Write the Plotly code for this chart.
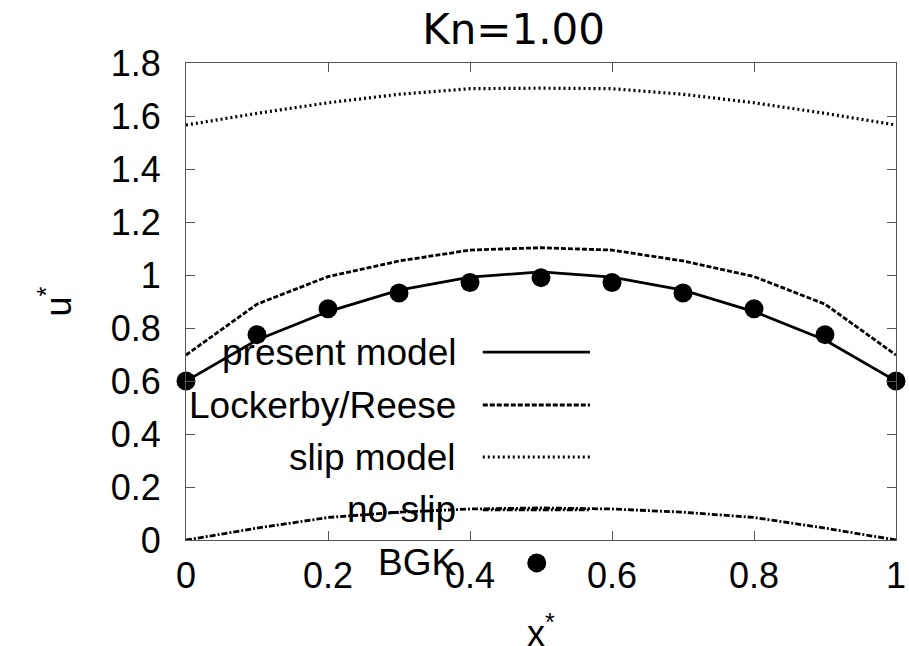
import plotly.graph_objects as go

x_star = [0.0, 0.1, 0.2, 0.3, 0.4, 0.5, 0.6, 0.7, 0.8, 0.9, 1.0]
present_model = [0.600, 0.755, 0.862, 0.943, 0.992, 1.012, 0.992, 0.943, 0.862, 0.755, 0.600]
lockerby_reese = [0.698, 0.890, 0.994, 1.053, 1.094, 1.103, 1.094, 1.053, 0.994, 0.890, 0.698]
slip_model = [1.566, 1.610, 1.650, 1.682, 1.703, 1.705, 1.703, 1.682, 1.650, 1.610, 1.566]
no_slip = [0.000, 0.045, 0.085, 0.105, 0.117, 0.121, 0.117, 0.105, 0.085, 0.045, 0.000]
bgk = [0.600, 0.775, 0.873, 0.932, 0.972, 0.990, 0.972, 0.932, 0.873, 0.775, 0.600]

x_ticks = [0, 0.2, 0.4, 0.6, 0.8, 1]
x_tick_labels = ["0", "0.2", "0.4", "0.6", "0.8", "1"]
y_ticks = [0, 0.2, 0.4, 0.6, 0.8, 1, 1.2, 1.4, 1.6, 1.8]
y_tick_labels = ["0", "0.2", "0.4", "0.6", "0.8", "1", "1.2", "1.4", "1.6", "1.8"]

legend_names = ["present model", "Lockerby/Reese", "slip model", "no-slip", "BGK"]

FONT = "Liberation Sans, Arial, Helvetica, sans-serif"
LW = 2.8
styles = {
    "present model": dict(color="black", width=LW, dash="solid"),
    "Lockerby/Reese": dict(color="black", width=LW, dash="5px,2px"),
    "slip model": dict(color="black", width=3.2, dash="2px,3px"),
    "no-slip": dict(color="black", width=LW, dash="6px,2px,2px,2px"),
}

fig = go.Figure()
for name, ys in [("present model", present_model), ("Lockerby/Reese", lockerby_reese),
                 ("slip model", slip_model), ("no-slip", no_slip)]:
    fig.add_trace(go.Scatter(x=x_star, y=ys, mode="lines", name=name,
                             line=styles[name], showlegend=False))
fig.add_trace(go.Scatter(x=x_star, y=bgk, mode="markers", name="BGK",
                         marker=dict(color="black", size=19, symbol="circle"),
                         showlegend=False, cliponaxis=False))

# gnuplot-style key: text right-aligned, sample on the right
row_y = [0.394, 0.283, 0.174, 0.063, -0.048]
text_x = 0.383
samp_x0, samp_x1 = 0.418, 0.569
for name, yy in zip(legend_names, row_y):
    fig.add_annotation(x=text_x, y=yy, xref="paper", yref="paper", text=name,
                       showarrow=False, xanchor="right", yanchor="middle",
                       font=dict(family=FONT, size=37, color="black"))
    if name in styles:
        fig.add_shape(type="line", xref="paper", yref="paper",
                      x0=samp_x0, x1=samp_x1, y0=yy, y1=yy, line=styles[name])
    else:
        fig.add_shape(type="circle", xref="paper", yref="paper",
                      xsizemode="pixel", ysizemode="pixel",
                      xanchor=0.494, yanchor=yy, x0=-9.5, x1=9.5, y0=-9.5, y1=9.5,
                      fillcolor="black", line=dict(color="black", width=0))

# x-axis title placed like gnuplot's (very close to the bottom edge)
fig.add_annotation(x=0.5, y=-0.243, xref="paper", yref="paper", text="x<sup>*</sup>",
                   showarrow=False, xanchor="center", yanchor="bottom",
                   font=dict(family=FONT, size=36, color="black"))

axis_common = dict(showgrid=False, zeroline=False, showline=True, linecolor="#555555",
                   linewidth=1.2, mirror="ticks", ticks="inside", ticklen=9,
                   tickcolor="#555555", tickwidth=1.2, automargin=False,
                   tickfont=dict(family=FONT, size=36, color="black"))

fig.update_layout(
    width=909, height=646,
    margin=dict(l=186, r=13, t=63, b=106),
    paper_bgcolor="white", plot_bgcolor="white",
    title=dict(text="Kn=1.00", x=0.565, xanchor="center", y=0.954, yanchor="middle",
               font=dict(family="DejaVu Sans", size=42, color="black")),
    xaxis=dict(range=[0, 1], tickvals=x_ticks, ticktext=x_tick_labels,
               ticklabelstandoff=4, **axis_common),
    yaxis=dict(range=[0, 1.8], tickvals=y_ticks, ticktext=y_tick_labels,
               ticklabelstandoff=17,
               title=dict(text="u<sup>*</sup>", standoff=28,
                          font=dict(family=FONT, size=36, color="black")),
               **axis_common),
)

fig.write_html("out.html", config={"displayModeBar": False},
               post_script="document.body.style.margin='0';document.body.style.padding='0';")
